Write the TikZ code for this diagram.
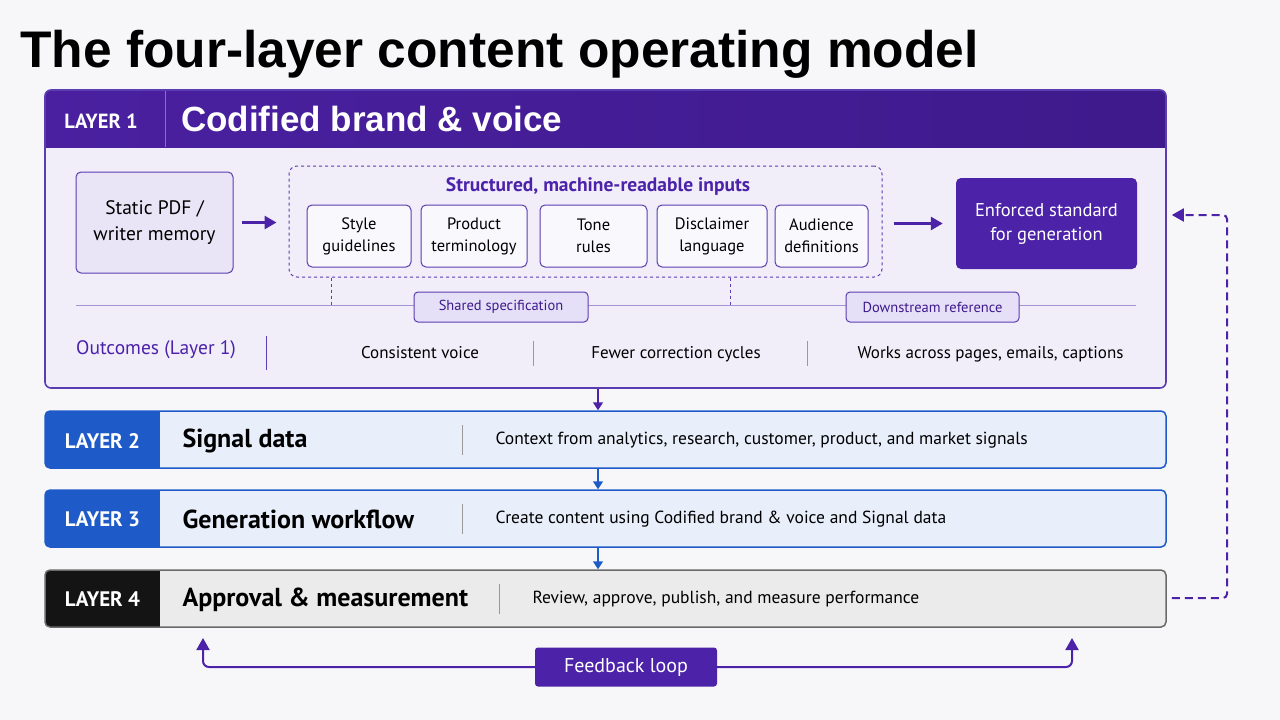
\documentclass[tikz,border=0pt]{standalone}
\usepackage{fontspec}
\setmainfont{PT Sans}
\newfontfamily\headfont{Liberation Sans}
\usetikzlibrary{arrows.meta}
\definecolor{bgpage}{HTML}{F7F7F9}
\definecolor{purpdark}{HTML}{3E1A8C}
\definecolor{purphead}{HTML}{4A20A0}
\definecolor{purp}{HTML}{4B22A8}
\definecolor{purpline}{HTML}{5A3DB0}
\definecolor{lavfill}{HTML}{F1EEFA}
\definecolor{lavbox}{HTML}{E9E5F6}
\definecolor{lavpill}{HTML}{E5DFF7}
\definecolor{bluedark}{HTML}{1F5BC8}
\definecolor{bluefill}{HTML}{E8EEFA}
\definecolor{greyfill}{HTML}{EBEBEC}
\definecolor{greyline}{HTML}{6A6A6A}
\definecolor{tagblack}{HTML}{141414}
\tikzset{
  tagtext/.style={text=white, font=\bfseries\fontsize{21}{24}\selectfont},
  rowtitle/.style={anchor=west, font=\bfseries\fontsize{26}{30}\selectfont},
  rowdesc/.style={anchor=west, font=\fontsize{17.5}{21}\selectfont},
  rowdiv/.style={draw=black!40, line width=0.8pt},
  srcbox/.style={draw=purpline, line width=1pt, fill=lavbox, rounded corners=5pt,
    align=center, inner sep=0, font=\fontsize{19.5}{26}\selectfont},
  inbox/.style={draw=purpline, line width=1pt, fill=white!60!lavfill, rounded corners=5pt,
    align=center, minimum height=62pt, inner sep=0, font=\fontsize{16.5}{22}\selectfont},
  pill/.style={draw=purpline, line width=1pt, fill=lavpill, rounded corners=4pt,
    minimum height=30pt, inner sep=0, text=purpdark, font=\fontsize{14.5}{16}\selectfont},
  outtext/.style={font=\fontsize{17}{20}\selectfont},
  layerarrow/.style={line width=1.6pt, -{Triangle[length=8pt,width=10pt]}},
  purparrow/.style={draw=purp, line width=2.6pt, -{Triangle[length=12pt,width=13pt]}},
}
% one row of layers 2-4
\newcommand{\layerrow}[9]{%
  \begin{scope}
    \clip[rounded corners=5pt] (45,#2) rectangle (1166,{#2+57});
    \fill[#8] (45,#2) rectangle (1166,{#2+57});
    \fill[#7] (45,#2) rectangle (160,{#2+57});
  \end{scope}
  \node[draw=#9, line width=1.5pt, rounded corners=5pt, minimum width=1121pt,
    minimum height=57pt, inner sep=0] (#1) at (605.5,{#2+28.5}) {};
  \node[tagtext] (#1tag) at (102.5,{#2+29.5}) {#3};
  \node[rowtitle] (#1title) at (179,{#2+29.5}) {#4};
  \draw[rowdiv] (#5,{#2+14}) -- (#5,{#2+44});
  \node[rowdesc] (#1desc) at ({#5+30},{#2+29.5}) {#6};}

\begin{document}
\begin{tikzpicture}[x=1pt,y=-1pt]
  \fill[bgpage] (0,0) rectangle (1280,720);
  \useasboundingbox (0,0) rectangle (1280,720);
  \node[anchor=west, inner sep=0, font=\headfont\bfseries\fontsize{51.5}{56}\selectfont] (title)
    at (20,54) {The four-layer content operating model};

  % layer 1
  \begin{scope}
    \clip[rounded corners=6pt] (45,90) rectangle (1166,388);
    \fill[lavfill] (45,90) rectangle (1166,388);
    \shade[left color=purphead, right color=purpdark] (45,90) rectangle (1166,147);
    \draw[white!35!purphead, line width=1pt] (165,90) -- (165,147);
  \end{scope}
  \node[draw=purpline, line width=1.6pt, rounded corners=6pt, minimum width=1121pt,
    minimum height=298pt, inner sep=0] (L1) at (605.5,239) {};
  \node[tagtext, font=\bfseries\fontsize{20.5}{24}\selectfont] (L1tag) at (101,121) {LAYER 1};
  \node[anchor=west, inner sep=0, text=white, font=\headfont\bfseries\fontsize{35}{40}\selectfont]
    (L1title) at (181,119) {Codified brand \& voice};

  \node[srcbox, minimum width=157pt, minimum height=101pt] (static) at (154.5,222.5)
    {Static PDF /\\writer memory};
  \node[draw=purpline, line width=1pt, dashed, rounded corners=8pt, minimum width=593pt,
    minimum height=111pt, inner sep=0] (inputs) at (585.5,221.5) {};
  \node[text=purp, font=\bfseries\fontsize{19.5}{22}\selectfont] (inputstitle) at (598,186)
    {Structured, machine-readable inputs};
  \node[inbox, minimum width=104pt] (style) at (359,236) {Style\\guidelines};
  \node[inbox, minimum width=106pt] (product) at (474,236) {Product\\terminology};
  \node[inbox, minimum width=107pt] (tone) at (593.5,236) {Tone\\rules};
  \node[inbox, minimum width=110pt] (disclaim) at (712,236) {Disclaimer\\language};
  \node[inbox, minimum width=93pt] (audience) at (821.5,236) {Audience\\definitions};
  \node[fill=purp, rounded corners=5pt, minimum width=181pt, minimum height=91pt,
    inner sep=0, align=center, text=white, font=\fontsize{18.5}{24}\selectfont] (enforced)
    at (1046.5,223.5) {Enforced standard\\for generation};
  \draw[purparrow, shorten <=8pt, shorten >=12pt] (static.east) -- (static.east -| inputs.west);
  \draw[purparrow, shorten <=11pt, shorten >=13pt] (inputs.east |- enforced.west) -- (enforced.west);

  \coordinate (specL) at (76,305);
  \coordinate (specR) at (1136,305);
  \coordinate (tapA) at (331,305);
  \coordinate (tapB) at (730,305);
  \draw[purpline!55, line width=1pt] (specL) -- (specR);
  \draw[purpline, line width=0.8pt, dashed] (tapA |- inputs.south) -- (tapA);
  \draw[purpline, line width=0.8pt, dashed] (tapB |- inputs.south) -- (tapB);
  \node[pill, minimum width=174pt] (shared) at (501,307) {Shared specification};
  \node[pill, minimum width=173pt] (downstream) at (932.5,307) {Downstream reference};

  \node[anchor=west, inner sep=0, text=purp, font=\fontsize{19.5}{22}\selectfont] (outcomes)
    at (76,350) {Outcomes (Layer 1)};
  \draw[purpline, line width=1pt] (266,336) -- (266,370);
  \node[outtext] (oc1) at (420,353) {Consistent voice};
  \draw[rowdiv] (533,341) -- (533,366);
  \node[outtext] (oc2) at (676,354) {Fewer correction cycles};
  \draw[rowdiv] (807,341) -- (807,366);
  \node[outtext] (oc3) at (990.5,354) {Works across pages, emails, captions};

  % layers 2 to 4
  \layerrow{L2}{411}{LAYER 2}{Signal data}{462}
    {Context from analytics, research, customer, product, and market signals}{bluedark}{bluefill}{bluedark}
  \layerrow{L3}{490}{LAYER 3}{Generation workflow}{462}
    {Create content using Codified brand \& voice and Signal data}{bluedark}{bluefill}{bluedark}
  \layerrow{L4}{570}{LAYER 4}{Approval \& measurement}{499}
    {Review, approve, publish, and measure performance}{tagblack}{greyfill}{greyline}

  \draw[layerarrow, purp] ([xshift=-7.5pt]L1.south) -- ([xshift=-7.5pt]L2.north);
  \draw[layerarrow, bluedark] ([xshift=-7.5pt]L2.south) -- ([xshift=-7.5pt]L3.north);
  \draw[layerarrow, bluedark] ([xshift=-7.5pt]L3.south) -- ([xshift=-7.5pt]L4.north);

  % feedback
  \node[fill=purp, rounded corners=3pt, minimum width=182pt, minimum height=39pt, inner sep=0,
    text=white, font=\fontsize{20}{24}\selectfont] (feedback) at (626,667) {Feedback loop};
  \coordinate (fbL) at (203,638);
  \coordinate (fbR) at (1072,638);
  \draw[purparrow, line width=2pt, rounded corners=6pt] (feedback.west) -| (fbL);
  \draw[purparrow, line width=2pt, rounded corners=6pt] (feedback.east) -| (fbR);
  \coordinate (loopB) at (1227,598);
  \coordinate (loopT) at (1227,215);
  \draw[purparrow, line width=2pt, dash pattern=on 8pt off 5pt, rounded corners=4pt,
    shorten <=5pt, shorten >=5pt]
    (L4.east |- loopB) -- (loopB) -- (loopT) -- (loopT -| L1.east);
\end{tikzpicture}
\end{document}
